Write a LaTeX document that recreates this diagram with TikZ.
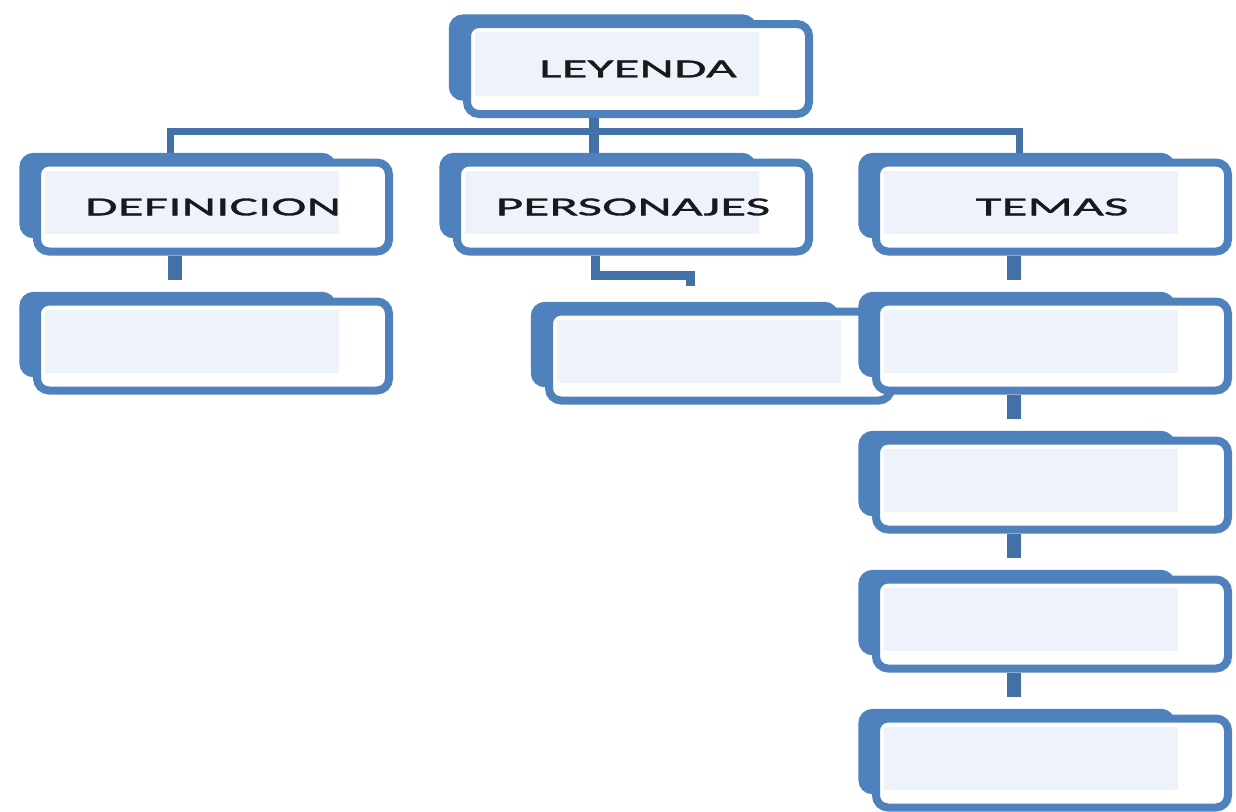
\documentclass[tikz,border=0pt]{standalone}
\usepackage{fontspec}
\usetikzlibrary{positioning,shadows,backgrounds}
\newfontfamily\labelfont[FakeStretch=2.05,FakeBold=1.2]{Carlito}
\definecolor{boxblue}{RGB}{79,129,189}
\definecolor{boxfill}{RGB}{238,242,250}
\definecolor{linkblue}{RGB}{68,112,168}

\begin{document}
\begin{tikzpicture}[
    x=1pt, y=-1pt,
    node distance=42pt,
    card/.style={draw=boxblue, line width=8pt, fill=white, rounded corners=12pt,
        minimum width=352pt, minimum height=89pt, inner sep=0pt,
        font=\labelfont\fontsize{26}{30}\selectfont, text=black!90,
        copy shadow={shadow xshift=-40pt, shadow yshift=13pt, shadow scale=0.88,
            fill=boxblue, draw=boxblue},
        path picture={\fill[boxfill, sharp corners] ([shift={(8pt,-8pt)}]path picture bounding box.north west)
            rectangle ([shift={(-50pt,18pt)}]path picture bounding box.south east);}},
    bar/.style={draw=linkblue, line width=7pt},
    stub/.style={draw=linkblue, line width=14pt, shorten >=18pt},
    elbow/.style={draw=linkblue, line width=9pt, shorten >=22pt}
]
    \path[use as bounding box] (0,0) rectangle (1236,811);

    % Top
    \node[card, minimum width=342pt, minimum height=90pt] (leyenda) at (638,69) {LEYENDA};

    % Branches
    \node[card] (defin) at (213,207) {DEFINICION};
    \node[card] (perso) at (633,207) {PERSONAJES};
    \node[card] (temas) at (1052,207) {TEMAS};

    % Empty boxes
    \node[card, below=of defin] (defin1) {};
    \node[card, minimum width=342pt, below=52pt of perso, xshift=87pt] (perso1) {};
    \node[card, below=of temas] (temas1) {};
    \node[card, below=of temas1] (temas2) {};
    \node[card, below=of temas2] (temas3) {};
    \node[card, below=of temas3] (temas4) {};

    % Connections
    \begin{scope}[on background layer]
        \coordinate (hub) at ([xshift=-44pt,yshift=-13pt]leyenda.south);
        \draw[bar] ([xshift=-43pt]defin.north) |- (hub) -| ([xshift=-33pt]temas.north);
        \draw[bar, line width=10pt] ([xshift=-44pt]leyenda.south) -- ([xshift=-39pt]perso.north);
        \draw[stub] ([xshift=-38pt]defin.south) -- ([xshift=-38pt]defin1.north);
        \coordinate (bend) at ([xshift=-30pt,yshift=32pt]perso1.north);
        \draw[elbow] ([xshift=-38pt]perso.south) |- (bend) -- ([xshift=-30pt]perso1.north);
        \draw[stub] ([xshift=-38pt]temas.south) -- ([xshift=-38pt]temas1.north);
        \draw[stub] ([xshift=-38pt]temas1.south) -- ([xshift=-38pt]temas2.north);
        \draw[stub] ([xshift=-38pt]temas2.south) -- ([xshift=-38pt]temas3.north);
        \draw[stub] ([xshift=-38pt]temas3.south) -- ([xshift=-38pt]temas4.north);
    \end{scope}
\end{tikzpicture}
\end{document}
